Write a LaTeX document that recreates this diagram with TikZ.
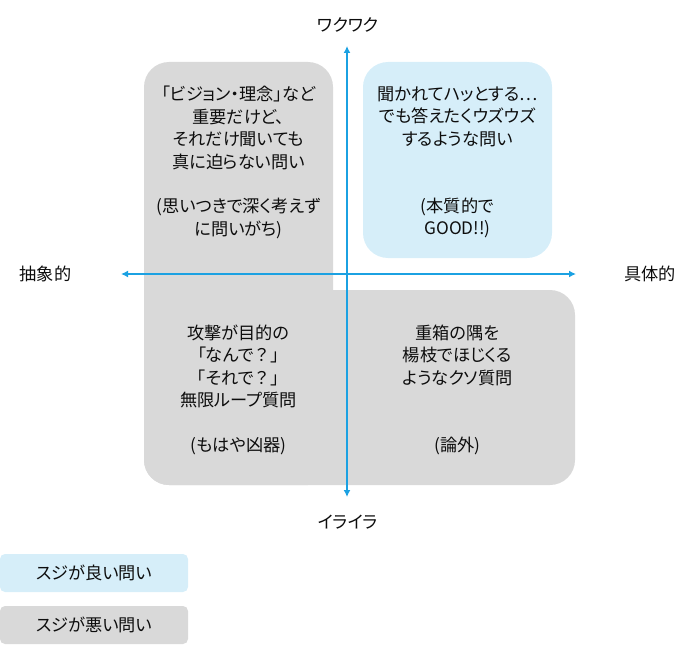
\documentclass[tikz,border=0pt]{standalone}
\usepackage{fontspec}
\setmainfont{Noto Sans CJK JP}[RawFeature=+palt]
\newfontfamily\fullw{Noto Sans CJK JP}
\usetikzlibrary{arrows.meta}
\definecolor{axisblue}{RGB}{27,161,226}
\definecolor{boxgray}{RGB}{217,217,217}
\definecolor{boxblue}{RGB}{214,238,249}
\definecolor{txt}{RGB}{13,13,13}
\begin{document}
\begin{tikzpicture}[x=1pt,y=-1pt,
  lbl/.style={font=\fontsize{17.2}{22.4}\selectfont, text=txt, align=center, inner sep=0pt},
  axis/.style={draw=axisblue, line width=1.8pt, {Latex[length=7pt,width=7pt]}-{Latex[length=7pt,width=7pt]}},
  legendbox/.style={lbl, rounded corners=5pt, minimum width=188pt, minimum height=38pt}
]
\useasboundingbox (0,0) rectangle (690,650);
% regions
\fill[boxgray, rounded corners=25pt] (144,62) rectangle (333,485);
\fill[boxgray, rounded corners=25pt] (144,290) rectangle (575,485);
\fill[boxblue, rounded corners=25pt] (363,62) rectangle (552,258);
% axes
\coordinate (top) at (347,46);
\coordinate (bot) at (347,497);
\coordinate (lft) at (121,274);
\coordinate (rgt) at (576,274);
\draw[axis] (lft) -- (rgt);
\draw[axis] (top) -- (bot);
% axis labels
\node[lbl] (wk) at (348,25) {ワクワク};
\node[lbl] (ir) at (348,522) {イライラ};
\node[lbl] (ab) at (45.5,274) {抽象的};
\node[lbl] (co) at (650,274) {具体的};
% quadrant texts
\node[lbl] (tl) at (238.5,162.5) {「ビジョン・理念」など\\重要だけど、\\それだけ聞いても\\真に迫らない問い\\[22.4pt](思いつきで深く考えず\\に問いがち)};
\node[lbl] (tr) at (457.5,162.5) {聞かれてハッとする{\fullw …}\\でも答えたくウズウズ\\するような問い\\[44.8pt](本質的で\\GOOD!!)};
\node[lbl] (bl) at (238.5,390) {攻撃が目的の\\「なんで{\fullw ？}」\\「それで{\fullw ？}」\\無限ループ質問\\[22.4pt](もはや凶器)};
\node[lbl] (br) at (457.5,390) {重箱の隅を\\楊枝でほじくる\\ようなクソ質問\\[44.8pt](論外)};
% legend
\node[legendbox, fill=boxblue] (lg1) at (94,573) {スジが良い問い};
\node[legendbox, fill=boxgray] (lg2) at (94,625) {スジが悪い問い};
\end{tikzpicture}
\end{document}
